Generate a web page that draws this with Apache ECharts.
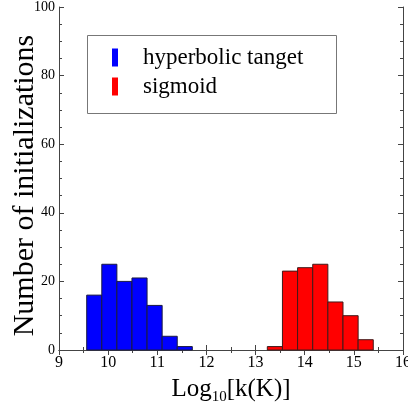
<!DOCTYPE html>
<html>
<head>
<meta charset="utf-8">
<script src="https://cdn.jsdelivr.net/npm/echarts@6/dist/echarts.min.js"></script>
<style>html,body{margin:0;padding:0;background:#fff}#c{width:408px;height:408px}</style>
</head>
<body>
<div id="c"></div>
<script>
// Bin edges (log10 k) and counts
var tanhEdges = [9.564, 9.871, 10.178, 10.485, 10.792, 11.099, 11.406, 11.713];
var tanhCounts = [16, 25, 20, 21, 13, 4, 1];
var sigEdges = [13.239, 13.547, 13.855, 14.163, 14.471, 14.779, 15.087, 15.395];
var sigCounts = [1, 23, 24, 25, 14, 10, 3];
var xTicks = [9, 10, 11, 12, 13, 14, 15, 16];
var yTicks = [0, 20, 40, 60, 80, 100];

function bins(edges, counts) {
  var out = [];
  for (var i = 0; i < counts.length; i++) out.push([edges[i], edges[i + 1], counts[i]]);
  return out;
}
function render(params, api) {
  var p0 = api.coord([api.value(0), api.value(2)]);
  var p1 = api.coord([api.value(1), 0]);
  return {
    type: 'rect',
    shape: {x: p0[0], y: p0[1], width: p1[0] - p0[0], height: p1[1] - p0[1]},
    style: api.style()
  };
}
var serif = '"Liberation Serif", "DejaVu Serif", serif';
var axisCol = '#444';
function xAx(pos, labels) {
  return {
    type: 'value', position: pos, min: xTicks[0], max: xTicks[xTicks.length - 1], interval: 1,
    axisLine: {show: true, lineStyle: {color: axisCol, width: 1}},
    axisTick: {show: true, inside: true, length: 5, lineStyle: {color: axisCol}},
    minorTick: {show: true, splitNumber: 2, length: 3, lineStyle: {color: axisCol}},
    splitLine: {show: false},
    axisLabel: {show: labels, color: '#000', fontFamily: serif, fontSize: 16, margin: 5},
  };
}
function yAx(pos, labels) {
  return {
    type: 'value', position: pos, min: yTicks[0], max: yTicks[yTicks.length - 1], interval: 20,
    axisLine: {show: true, lineStyle: {color: axisCol, width: 1}},
    axisTick: {show: true, inside: true, length: 5, lineStyle: {color: axisCol}},
    minorTick: {show: true, splitNumber: 4, length: 3, lineStyle: {color: axisCol}},
    splitLine: {show: false},
    axisLabel: {show: labels, color: '#000', fontFamily: serif, fontSize: 14, margin: 4},
  };
}
var xb = xAx('bottom', true);
xb.name = '{a|Log}{b|10}{a|[k(K)]}';
xb.nameLocation = 'middle';
xb.nameGap = 27;
xb.nameMoveOverlap = false;
xb.nameTextStyle = {
  rich: {
    a: {fontFamily: serif, fontSize: 25, color: '#000'},
    b: {fontFamily: serif, fontSize: 15, color: '#000', verticalAlign: 'bottom', padding: [0, 0, -3, 0]}
  }
};
var yl = yAx('left', true);
yl.name = 'Number of initializations';
yl.nameLocation = 'middle';
yl.nameGap = 19;
yl.nameMoveOverlap = false;
yl.nameTextStyle = {fontFamily: serif, fontSize: 30, color: '#000', padding: [0, 14, 0, 0]};

var chart = echarts.init(document.getElementById('c'), null, {renderer: 'canvas'});
chart.setOption({
  animation: false,
  backgroundColor: '#fff',
  grid: {left: 59, right: 5, top: 7, bottom: 58, containLabel: false, outerBoundsMode: 'none'},
  xAxis: [xb, xAx('top', false)],
  yAxis: [yl, yAx('right', false)],
  legend: {
    orient: 'vertical', left: 112, top: 46, padding: 0, itemWidth: 6, itemHeight: 18, itemGap: 6,
    itemStyle: {borderWidth: 0},
    textStyle: {fontFamily: serif, fontSize: 23, color: '#000', padding: [0, 0, 0, 20]},
    data: [
      {name: 'hyperbolic tanget', icon: 'rect'},
      {name: 'sigmoid', icon: 'rect'}
    ]
  },
  graphic: [{
    type: 'rect', left: 85, top: 33, z: 0,
    shape: {width: 249, height: 78},
    style: {fill: 'none', stroke: '#777', lineWidth: 1}
  }],
  series: [
    {
      name: 'hyperbolic tanget', type: 'custom', renderItem: render,
      encode: {x: [0, 1], y: 2},
      itemStyle: {color: '#0000ff', borderColor: '#1a1a40', borderWidth: 1},
      data: bins(tanhEdges, tanhCounts)
    },
    {
      name: 'sigmoid', type: 'custom', renderItem: render,
      encode: {x: [0, 1], y: 2},
      itemStyle: {color: '#ff0000', borderColor: '#401a1a', borderWidth: 1},
      data: bins(sigEdges, sigCounts)
    }
  ]
});
</script>
</body>
</html>
